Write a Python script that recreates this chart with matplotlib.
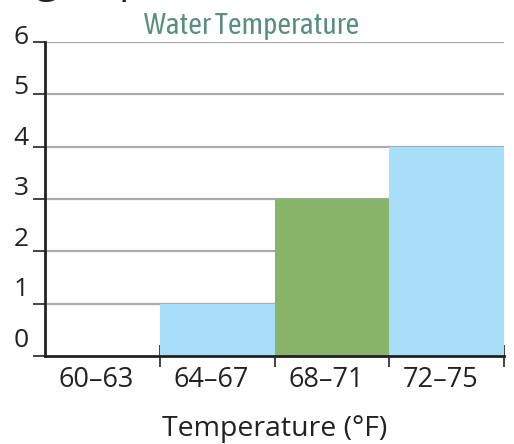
import matplotlib
matplotlib.use("Agg")
import matplotlib.pyplot as plt
from matplotlib import font_manager

# ── data ─────────────────────────────────────────
bins = ["60–63", "64–67", "68–71", "72–75"]
counts = [0, 1, 3, 4]
bar_colors = ["#A8DEF8", "#A8DEF8", "#88B46A", "#A8DEF8"]
y_ticks = [0, 1, 2, 3, 4, 5, 6]

names = {f.name for f in font_manager.fontManager.ttflist}
narrow = next((n for n in ["Asap Condensed", "Archivo Narrow", "Barlow Condensed"]
               if n in names), "DejaVu Sans")
plt.rcParams["font.family"] = ["Open Sans", "DejaVu Sans"]

fig = plt.figure(figsize=(5.14, 4.44), dpi=100)
ax = fig.add_axes([45 / 514, 1 - 356 / 444, (504 - 45) / 514, (356 - 42) / 444])

# gridlines behind bars
for v in y_ticks[1:]:
    ax.axhline(v, color="#ABABAB", lw=1.6, zorder=1)

x = list(range(len(bins)))
ax.bar(x, counts, width=1.0, color=bar_colors, align="edge", zorder=2, lw=0)

ax.set_xlim(0, len(bins))
ax.set_ylim(0, 6)
for s in ("top", "right"):
    ax.spines[s].set_visible(False)
for s in ("left", "bottom"):
    ax.spines[s].set_color("#222222")
    ax.spines[s].set_linewidth(2)
    ax.spines[s].set_zorder(3)

ax.set_yticks(y_ticks)
ax.set_yticklabels([])
ax.tick_params(axis="y", length=9, width=1.2, color="#222222")

ax.set_xticks(range(1, len(bins) + 1))
ax.set_xticklabels([])
ax.tick_params(axis="x", direction="inout", length=16, width=1.2, color="#222222")

# y labels sit a little above their ticks
for v in y_ticks:
    ax.text(-0.035, 0.3 + v * 0.9656, str(v), ha="right", va="center",
            fontsize=19, color="#222222",
            transform=ax.get_yaxis_transform())

for i, lab in enumerate(bins):
    ax.text(i + 0.45, -0.46, lab, ha="center", va="center", fontsize=19.5,
            color="#222222", clip_on=False)

fig.text(275 / 514, 1 - 429 / 444, "Temperature (°F)", ha="center", va="center",
         fontsize=20.5, color="#222222")

fig.text(252 / 514, 1 - 25 / 444, "Water Temperature", ha="center", va="center",
         fontsize=21.5, color="#5A8F7B", family=[narrow, "DejaVu Sans"])

# cut-off heading at the very top
fig.text(35 / 514, 1 + 8 / 444, "g", ha="left", va="baseline", fontsize=30,
         color="#222222")
fig.text(118 / 514, 1 + 8 / 444, "p", ha="left", va="baseline", fontsize=30,
         color="#222222")

fig.savefig("out.png", dpi=100)
